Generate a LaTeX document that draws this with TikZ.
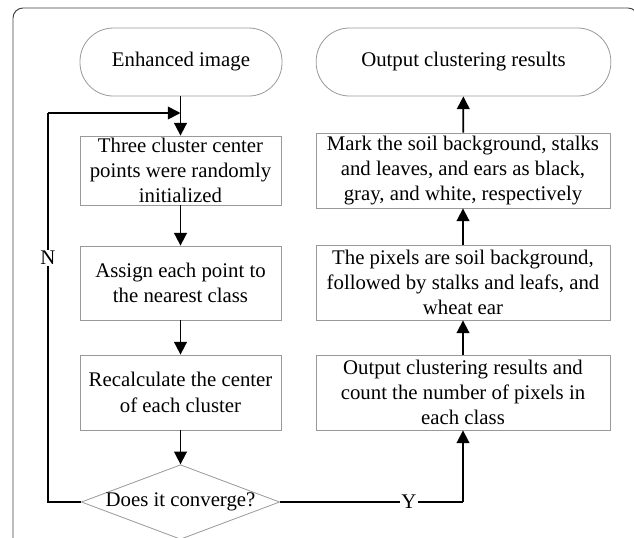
\documentclass[tikz,border=0pt]{standalone}
\usepackage{fontspec}
\setmainfont{Liberation Serif}
\usetikzlibrary{shapes.geometric,arrows.meta}
\begin{document}
\begin{tikzpicture}[x=0.75pt,y=-0.75pt,
  every node/.style={font=\fontsize{15.6pt}{19pt}\selectfont},
  term/.style={draw=black!40,line width=0.6pt,rounded corners=25pt,minimum height=51pt,align=center},
  procbox/.style={draw=black!40,line width=0.6pt,minimum height=54pt,align=center,inner sep=1pt},
  decis/.style={draw=black!40,line width=0.6pt,diamond,aspect=2.66,minimum width=148pt,minimum height=55.5pt,inner sep=0pt},
  flow/.style={line width=1.3pt,-{Triangle[length=9.5pt,width=9.5pt]}},
  lbl/.style={fill=white,inner sep=1pt}]
\useasboundingbox (0,0) rectangle (634,537);
\clip (0,0) rectangle (634,537);
\draw[black!75,line width=0.7pt,rounded corners=7.5pt] (13,560) -- (13,8) -- (638,8) -- (638,560);
% left column
\node[term,minimum width=151.5pt] (start) at (181,62) {Enhanced image};
\node[procbox,minimum width=150.75pt,minimum height=51.75pt] (b1) at (180.5,170.5) {Three cluster center\\points were randomly\\initialized};
\node[procbox,minimum width=150.75pt,minimum height=55.5pt] (b2) at (180.5,283) {Assign each point to\\the nearest class};
\node[procbox,minimum width=150.75pt,minimum height=56.25pt] (b3) at (180.5,392.5) {Recalculate the center\\of each cluster};
\node[decis] (d) at (180.5,502) {Does it converge?};
% right column
\node[term,minimum width=221pt] (endn) at (463.5,62) {Output clustering results};
\node[procbox,minimum width=220.5pt,minimum height=56.25pt] (b6) at (463,170.5) {Mark the soil background, stalks\\and leaves, and ears as black,\\gray, and white, respectively};
\node[procbox,minimum width=220.5pt,minimum height=56.25pt] (b5) at (463,282.5) {The pixels are soil background,\\followed by stalks and leafs, and\\wheat ear};
\node[procbox,minimum width=220.5pt,minimum height=56.25pt] (b4) at (463,392.5) {Output clustering results and\\count the number of pixels in\\each class};
\coordinate (j) at (180.5,113);
\coordinate (nl) at (48,502);
\coordinate (nt) at (48,113);
\coordinate (yr) at (463,502);
% connectors
\draw[flow] (start.south -| j) -- (b1.north -| j);
\draw[flow] (b1) -- (b2);
\draw[flow] (b2) -- (b3);
\draw[flow] (b3) -- (d);
\draw[line width=1.3pt] (d.west) -- (nl) -- (nt);
\draw[flow] (nt) -- (j);
\node[lbl] (nlab) at (48,258) {N};
\draw[line width=1.3pt] (d.east) -- (yr);
\draw[flow] (yr) -- (b4.south -| yr);
\node[lbl] (ylab) at (409,502) {Y};
\draw[flow] (b4) -- (b5);
\draw[flow] (b5) -- (b6);
\draw[flow] (b6) -- (endn);
\end{tikzpicture}
\end{document}
